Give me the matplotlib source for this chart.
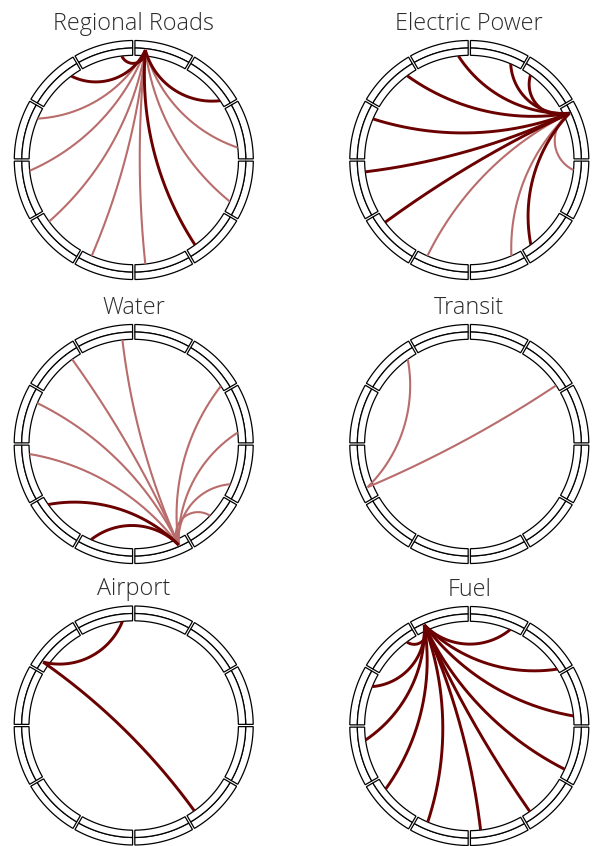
import numpy as np
import matplotlib
matplotlib.use("Agg")
import matplotlib.pyplot as plt
from matplotlib.patches import Polygon

# ---------------- data ----------------
titles = ["Regional Roads", "Electric Power", "Water", "Transit", "Airport", "Fuel"]
source_angles = [84.0, 25.0, 294.0, 203.0, 145.0, 114.0]

road_targets = [96.6, 126.7, 34.5, 156.7, 185.9, 216.0, 246.3, 276.3, 305.8, 336.6, 6.8]
road_strong = [1, 1, 1, 0, 0, 0, 0, 0, 1, 0, 0]

power_targets = [96.0, 66.7, 54.2, 126.4, 156.9, 186.5, 216.5, 246.4, 293.7, 306.0, 354.5]
power_strong = [1, 1, 1, 1, 1, 1, 1, 0, 0, 1, 0]

water_targets = [96.2, 126.0, 157.0, 185.5, 215.3, 246.0, 33.6, 6.3, 337.4, 316.8]
water_strong = [0, 0, 0, 0, 1, 1, 0, 0, 0, 0]

transit_targets = [126.0, 34.0]
transit_strong = [0, 0]

airport_targets = [96.2, 305.4]
airport_strong = [1, 1]

fuel_targets = [126.6, 67.0, 32.9, 5.5, 335.6, 305.3, 276.2, 246.6, 217.0, 187.7, 157.9]
fuel_strong = [1, 1, 1, 1, 1, 1, 1, 1, 1, 1, 1]

all_targets = [road_targets, power_targets, water_targets,
               transit_targets, airport_targets, fuel_targets]
all_strong = [road_strong, power_strong, water_strong,
              transit_strong, airport_strong, fuel_strong]

n_segments = 12

# ---------------- style / layout ----------------
W, H = 597, 846
centers_px = [(133.8, 160), (469.3, 160), (133.7, 444),
              (469.3, 444), (133.7, 725.5), (469.3, 726)]
R_PX = 119.5
LIM = 1.1
R_OUT, R_MID, R_IN = 1.0, 0.937, 0.876
R_SRC = 0.925
GAP = 0.019
SAG_MAX = 0.14      # max bow of a link toward the centre (in outer radii)
DARK = "#6b0000"
LIGHT = "#b86c6b"

plt.rcParams['font.family'] = ['Open Sans', 'DejaVu Sans']

fig = plt.figure(figsize=(W / 100, H / 100), dpi=100)


def band_segment(ax, a0, a1, r_o, r_i):
    do = GAP / (2 * r_o)
    di = GAP / (2 * r_i)
    to = np.linspace(a0 + do, a1 - do, 40)
    ti = np.linspace(a1 - di, a0 + di, 40)
    pts = np.concatenate([np.c_[r_o * np.cos(to), r_o * np.sin(to)],
                          np.c_[r_i * np.cos(ti), r_i * np.sin(ti)]])
    ax.add_patch(Polygon(pts, closed=True, facecolor="white",
                         edgecolor="black", lw=0.9, zorder=1))


def wrap(a):
    return (a + np.pi) % (2 * np.pi) - np.pi


def link(t1, t2, n=200):
    p1 = R_SRC * np.array([np.cos(t1), np.sin(t1)])
    p2 = R_IN * np.array([np.cos(t2), np.sin(t2)])
    d = abs(wrap(t2 - t1))
    geo_sag = R_IN * (np.cos(d / 2) - (1 - np.sin(d / 2)) / np.cos(d / 2))
    s = min(geo_sag, SAG_MAX)
    M = (p1 + p2) / 2
    v = p2 - p1
    h = np.linalg.norm(v) / 2
    nrm = np.array([-v[1], v[0]]) / (2 * h)
    if np.dot(nrm, -M) < 0:
        nrm = -nrm
    if s < 1e-4:
        u = np.linspace(0, 1, n)[:, None]
        return p1 + u * v
    rho = (h ** 2 + s ** 2) / (2 * s)
    C = M + (s - rho) * nrm
    am = np.arctan2(nrm[1], nrm[0])
    d1 = wrap(np.arctan2(*(p1 - C)[::-1]) - am)
    d2 = wrap(np.arctan2(*(p2 - C)[::-1]) - am)
    a = am + np.linspace(d1, d2, n)
    return np.c_[C[0] + rho * np.cos(a), C[1] + rho * np.sin(a)]


for k, (cx, cy) in enumerate(centers_px):
    half = LIM * R_PX
    ax = fig.add_axes([(cx - half) / W, (H - cy - half) / H, 2 * half / W, 2 * half / H])
    ax.set_xlim(-LIM, LIM)
    ax.set_ylim(-LIM, LIM)
    ax.set_aspect("equal")
    ax.axis("off")

    step = 2 * np.pi / n_segments
    for i in range(n_segments):
        a0, a1 = i * step, (i + 1) * step
        band_segment(ax, a0, a1, R_OUT, R_MID)
        band_segment(ax, a0, a1, R_MID, R_IN)

    ts = np.radians(source_angles[k])
    order = sorted(range(len(all_targets[k])), key=lambda j: all_strong[k][j])
    for j in order:
        tt = np.radians(all_targets[k][j])
        pts = link(ts, tt)
        strong = all_strong[k][j]
        ax.plot(pts[:, 0], pts[:, 1], color=DARK if strong else LIGHT,
                lw=2.1 if strong else 1.5, solid_capstyle="butt", zorder=3)

    ax.text(0, 1 + (40 - 29.3) / R_PX, titles[k], ha="center", va="baseline",
            fontsize=16.8, fontweight=300, color="#2b2b2b", clip_on=False)

fig.savefig("out.png", dpi=100)
